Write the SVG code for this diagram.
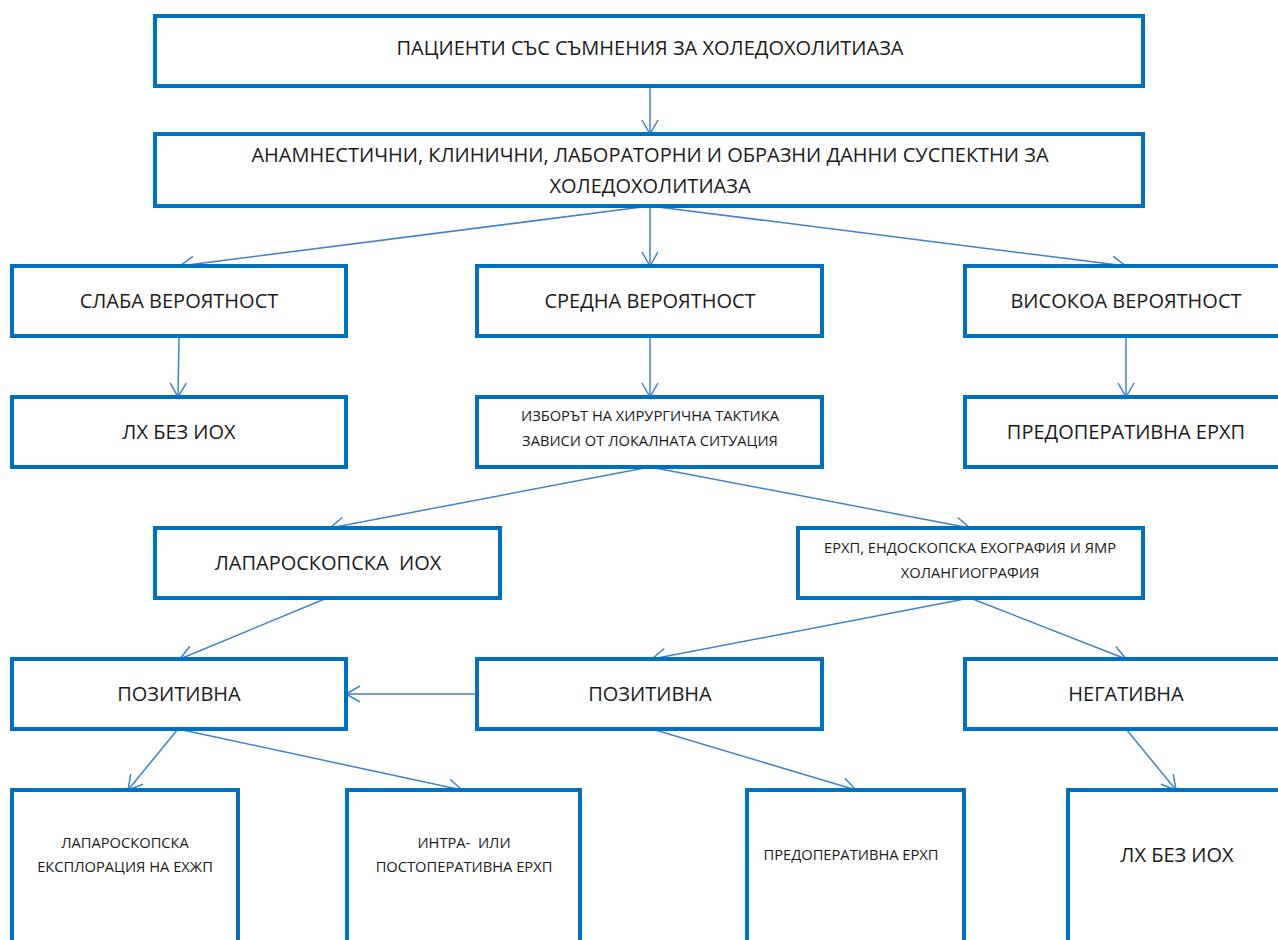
<svg xmlns="http://www.w3.org/2000/svg" width="1278" height="940" viewBox="0 0 1278 940">
<style>
.box{fill:#fff;stroke:#0070C0;stroke-width:4}
.t{font-family:"Open Sans","Liberation Sans",sans-serif;fill:#1a1a1a;text-anchor:middle;font-size:20px;white-space:pre}
.s{font-size:14.7px}
.c{stroke:#3f83c6;stroke-width:1.5;fill:none;marker-end:url(#a)}
</style>
<defs>
<marker id="a" markerUnits="userSpaceOnUse" viewBox="0 0 16 18" markerWidth="16" markerHeight="18" refX="15" refY="9" orient="auto">
<path d="M1,1 L15,9 L1,17" fill="none" stroke="#3f83c6" stroke-width="1.5"/>
</marker>
</defs>
<rect width="1278" height="940" fill="#fff"/>
<g id="connectors">
<line class="c" x1="650" y1="86" x2="650" y2="134"/>
<line class="c" x1="650" y1="206" x2="180" y2="266"/>
<line class="c" x1="650" y1="206" x2="650" y2="266"/>
<line class="c" x1="650" y1="206" x2="1126" y2="266"/>
<line class="c" x1="179" y1="336" x2="178" y2="397"/>
<line class="c" x1="650" y1="336" x2="650" y2="397"/>
<line class="c" x1="1126" y1="336" x2="1126" y2="397"/>
<line class="c" x1="650" y1="467" x2="330" y2="528"/>
<line class="c" x1="650" y1="467" x2="970" y2="528"/>
<line class="c" x1="327" y1="598" x2="180" y2="659"/>
<line class="c" x1="970" y1="598" x2="652" y2="659"/>
<line class="c" x1="970" y1="598" x2="1126" y2="659"/>
<line class="c" x1="477" y1="694" x2="346" y2="694"/>
<line class="c" x1="178" y1="729" x2="128" y2="790"/>
<line class="c" x1="178" y1="729" x2="462" y2="790"/>
<line class="c" x1="652" y1="729" x2="856" y2="790"/>
<line class="c" x1="1126" y1="729" x2="1176" y2="790"/>
</g>
<g id="n1"><rect class="box" x="155" y="16" width="988" height="70"/><text class="t" x="650" y="55">ПАЦИЕНТИ СЪС СЪМНЕНИЯ ЗА ХОЛЕДОХОЛИТИАЗА</text></g>
<g id="n2"><rect class="box" x="155" y="134" width="988" height="72"/><text class="t" x="650" y="162">АНАМНЕСТИЧНИ, КЛИНИЧНИ, ЛАБОРАТОРНИ И ОБРАЗНИ ДАННИ СУСПЕКТНИ ЗА</text><text class="t" x="650" y="193">ХОЛЕДОХОЛИТИАЗА</text></g>
<g id="n3"><rect class="box" x="12" y="266" width="334" height="70"/><text class="t" x="179" y="308">СЛАБА ВЕРОЯТНОСТ</text></g>
<g id="n4"><rect class="box" x="477" y="266" width="345" height="70"/><text class="t" x="650" y="308">СРЕДНА ВЕРОЯТНОСТ</text></g>
<g id="n5"><rect class="box" x="965" y="266" width="330" height="70"/><text class="t" x="1126" y="308">ВИСОКОА ВЕРОЯТНОСТ</text></g>
<g id="n6"><rect class="box" x="12" y="397" width="334" height="70"/><text class="t" x="179" y="439">ЛХ БЕЗ ИОХ</text></g>
<g id="n7"><rect class="box" x="477" y="397" width="345" height="70"/><text class="t s" x="650" y="421">ИЗБОРЪТ НА ХИРУРГИЧНА ТАКТИКА</text><text class="t s" x="650" y="446">ЗАВИСИ ОТ ЛОКАЛНАТА СИТУАЦИЯ</text></g>
<g id="n8"><rect class="box" x="965" y="397" width="330" height="70"/><text class="t" x="1126" y="439">ПРЕДОПЕРАТИВНА ЕРХП</text></g>
<g id="n9"><rect class="box" x="155" y="528" width="345" height="70"/><text class="t" x="328" y="570">ЛАПАРОСКОПСКА  ИОХ</text></g>
<g id="n10"><rect class="box" x="798" y="528" width="345" height="70"/><text class="t s" x="970" y="553">ЕРХП, ЕНДОСКОПСКА ЕХОГРАФИЯ И ЯМР</text><text class="t s" x="970" y="578">ХОЛАНГИОГРАФИЯ</text></g>
<g id="n11"><rect class="box" x="12" y="659" width="334" height="70"/><text class="t" x="179" y="701">ПОЗИТИВНА</text></g>
<g id="n12"><rect class="box" x="477" y="659" width="345" height="70"/><text class="t" x="650" y="701">ПОЗИТИВНА</text></g>
<g id="n13"><rect class="box" x="965" y="659" width="330" height="70"/><text class="t" x="1126" y="701">НЕГАТИВНА</text></g>
<g id="n14"><rect class="box" x="12" y="790" width="226" height="170"/><text class="t s" x="125" y="848">ЛАПАРОСКОПСКА</text><text class="t s" x="125" y="872">ЕКСПЛОРАЦИЯ НА ЕХЖП</text></g>
<g id="n15"><rect class="box" x="347" y="790" width="233" height="170"/><text class="t s" x="464" y="848">ИНТРА-  ИЛИ</text><text class="t s" x="464" y="872">ПОСТОПЕРАТИВНА ЕРХП</text></g>
<g id="n16"><rect class="box" x="747" y="790" width="217" height="170"/><text class="t s" x="851" y="860">ПРЕДОПЕРАТИВНА ЕРХП</text></g>
<g id="n17"><rect class="box" x="1068" y="790" width="230" height="170"/><text class="t" x="1177" y="862">ЛХ БЕЗ ИОХ</text></g>
</svg>
